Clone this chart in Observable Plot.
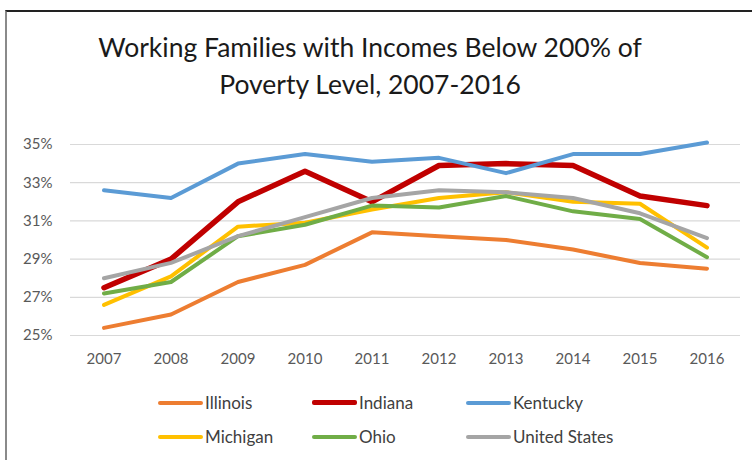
<!DOCTYPE html>
<html><head><meta charset="utf-8">
<script src="https://cdn.jsdelivr.net/npm/d3@7"></script>
<script src="https://cdn.jsdelivr.net/npm/@observablehq/plot@0.6"></script>
<style>
body{margin:0;background:#fff;}
#wrap{position:relative;width:752px;height:460px;overflow:hidden;background:#fff;font-family:Lato,"Open Sans",sans-serif;}
#frame{position:absolute;left:5px;top:10px;width:760px;height:470px;border-top:2px solid #222;border-left:2px solid #8a8a8a;}
#title{position:absolute;left:0;width:740px;top:29px;text-align:center;font-size:26.5px;line-height:37px;color:#1a1a1a;}
#chart{position:absolute;left:0;top:120px;}
.leg{position:absolute;font-size:17px;color:#404040;display:flex;align-items:center;}
.leg span.sw{display:inline-block;width:45px;height:4px;border-radius:2px;margin-right:2px;}
</style></head>
<body><div id="wrap"><div id="frame"></div>
<div id="title">Working Families with Incomes Below 200% of<br>Poverty Level, 2007-2016</div>
<div id="chart"></div><div id="legend"></div></div>
<script>
const years = [2007,2008,2009,2010,2011,2012,2013,2014,2015,2016];
const seriesNames = ["Illinois","Indiana","Kentucky","Michigan","Ohio","United States"];
const colors = ["#ED7D31","#C00000","#5B9BD5","#FFC000","#70AD47","#A5A5A5"];
const illinois = [25.4,26.1,27.8,28.7,30.4,30.2,30.0,29.5,28.8,28.5];
const indiana  = [27.5,29.0,32.0,33.6,32.0,33.9,34.0,33.9,32.3,31.8];
const kentucky = [32.6,32.2,34.0,34.5,34.1,34.3,33.5,34.5,34.5,35.1];
const michigan = [26.6,28.1,30.7,30.9,31.6,32.2,32.5,32.0,31.9,29.6];
const ohio     = [27.2,27.8,30.2,30.8,31.8,31.7,32.3,31.5,31.1,29.1];
const us       = [28.0,28.8,30.2,31.2,32.2,32.6,32.5,32.2,31.4,30.1];
const yTicks = [25,27,29,31,33,35];
const allValues = [illinois,indiana,kentucky,michigan,ohio,us];

const data = [];
allValues.forEach((vals,i)=>vals.forEach((v,j)=>data.push({series:seriesNames[i],year:years[j],value:v})));
const widths = {"Indiana":5.5};

const plot = Plot.plot({
  width:752, height:260,
  marginLeft:70, marginRight:12, marginTop:24, marginBottom:45,
  style:{fontFamily:"Lato, 'Open Sans', sans-serif", fontSize:"15px", color:"#595959", background:"transparent"},
  x:{domain:[2006.5,2016.5]},
  y:{domain:[25,35]},
  color:{domain:seriesNames, range:colors},
  marks:[
    Plot.ruleY(yTicks,{stroke:"#d9d9d9",strokeWidth:1.2}),
    Plot.axisY({ticks:yTicks,tickSize:0,tickPadding:18,tickFormat:d=>d+"%",label:null,fontSize:15}),
    Plot.axisX({ticks:years,tickSize:0,tickPadding:18,tickFormat:d=>String(d),label:null,fontSize:15}),
    ...seriesNames.map(s=>Plot.line(data.filter(d=>d.series===s),{x:"year",y:"value",stroke:"series",strokeWidth:widths[s]||4,strokeLinejoin:"round",strokeLinecap:"round"}))
  ]
});
document.getElementById("chart").appendChild(plot);

const legPos = [[158,403],[312,403],[466,403],[158,437],[312,437],[466,437]];
const leg = document.getElementById("legend");
seriesNames.forEach((s,i)=>{
  const d=document.createElement("div");d.className="leg";
  d.style.left=legPos[i][0]+"px";d.style.top=(legPos[i][1]-11)+"px";
  const sw=document.createElement("span");sw.className="sw";sw.style.background=colors[i];
  if(s==="Indiana"){sw.style.height="5.5px";}
  d.appendChild(sw);d.appendChild(document.createTextNode(s));leg.appendChild(d);
});
</script></body></html>
